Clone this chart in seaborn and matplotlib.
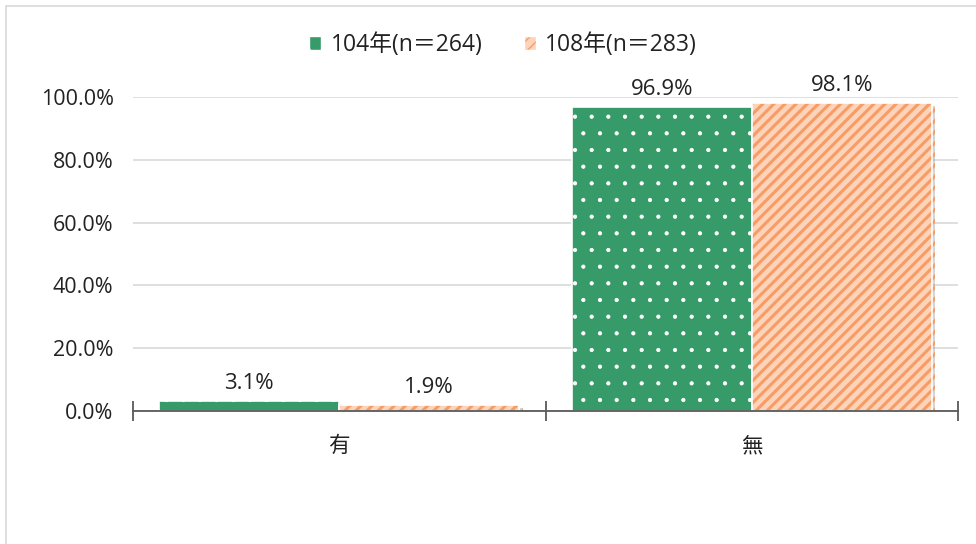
import matplotlib
matplotlib.use("Agg")
import matplotlib.pyplot as plt
import matplotlib.patheffects as pe
from matplotlib.patches import Patch
from matplotlib.lines import Line2D
from matplotlib.colors import to_rgba
import seaborn as sns
import pandas as pd

categories = ["有", "無"]
series = ["104年(n＝264)", "108年(n＝283)"]
values_104 = [3.1, 96.9]
values_108 = [1.9, 98.1]
yticks = [0, 20, 40, 60, 80, 100]

sns.set_theme(style="white")
plt.rcParams['font.family'] = ['Open Sans', 'Noto Sans CJK TC', 'DejaVu Sans']

df = pd.DataFrame({
    "cat": categories * 2,
    "series": [series[0]] * 2 + [series[1]] * 2,
    "val": values_104 + values_108,
})

green = "#369B68"
orange_face = "#FDD3BA"
orange_hatch = "#F89C66"

fig = plt.figure(figsize=(9.76, 5.44), dpi=100)
ax = fig.add_axes([133/976, 1-411/544, (958-133)/976, (411-97)/544])

sns.barplot(data=df, x="cat", y="val", hue="series", order=categories,
            hue_order=series, palette=[green, orange_face], width=0.873,
            ax=ax, legend=False, saturation=1)

def style_hatch(p, hc, hlw):
    if hasattr(p, "set_hatchcolor"):
        p.set_hatchcolor(hc)
    else:
        p._hatch_color = to_rgba(hc)
    if hasattr(p, "set_hatch_linewidth"):
        p.set_hatch_linewidth(hlw)
    else:
        p._hatch_linewidth = hlw

styles = [(green, '.', "white", 0.6), (orange_face, '///', orange_hatch, 2.2)]
for cont, (fc, hatch, hc, hlw) in zip(ax.containers, styles):
    for p in cont.patches:
        p.set_facecolor(fc)
        p.set_edgecolor("white")
        p.set_linewidth(1.2)
        p.set_hatch(hatch)
        style_hatch(p, hc, hlw)
        p.set_path_effects([pe.SimplePatchShadow(offset=(2.5, -2), shadow_rgbFace="#888888", alpha=0.35), pe.Normal()])
    ax.bar_label(cont, labels=[f"{v:.1f}%" for v in cont.datavalues],
                 padding=5, fontsize=16, color="#222222")

ax.set_ylim(0, 100)
ax.set_xlim(-0.5, 1.5)
ax.set_yticks(yticks)
ax.set_yticklabels([f"{v:.1f}%" for v in yticks])
ax.yaxis.grid(True, color="#D9D9D9", linewidth=1.2)
ax.set_axisbelow(True)
ax.set_xlabel("")
ax.set_ylabel("")
for s in ["left", "right", "top"]:
    ax.spines[s].set_visible(False)
ax.spines["bottom"].set_color("#595959")
ax.spines["bottom"].set_linewidth(1.3)
ax.tick_params(axis="y", length=0, pad=14, labelsize=15.5, labelcolor="#222222")
ax.tick_params(axis="x", which="major", length=0, pad=18, labelsize=15.5, labelcolor="#222222")
ax.set_xticks([-0.5, 0.5, 1.5], minor=True)
ax.tick_params(axis="x", which="minor", bottom=True, length=14, width=1.3,
               color="#595959", direction="inout")

h1 = Patch(facecolor=green, edgecolor="white", hatch='.')
h2 = Patch(facecolor=orange_face, edgecolor="white", hatch='///')
style_hatch(h1, "white", 0.6)
style_hatch(h2, orange_hatch, 2.2)
fig.legend([h1, h2], series, loc="center", bbox_to_anchor=(503/976, 1-45/544),
           ncol=2, frameon=False, fontsize=16.5, handlelength=0.55, handleheight=0.55,
           handletextpad=0.4, columnspacing=1.8, labelcolor="#222222")

fig.add_artist(Line2D([6/976, 1], [1-6/544, 1-6/544], color="#D9D9D9", lw=1.2))
fig.add_artist(Line2D([6/976, 6/976], [0, 1-6/544], color="#D9D9D9", lw=1.2))

fig.savefig("out.png", dpi=100)
